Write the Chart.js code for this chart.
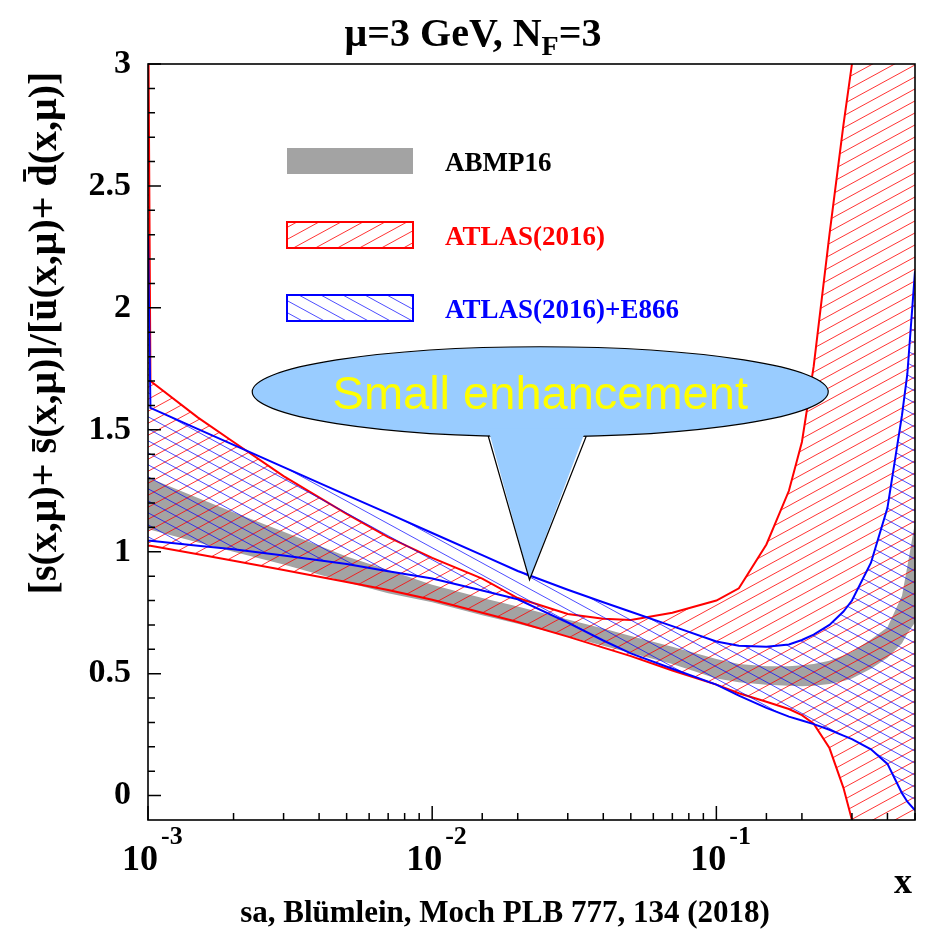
<!DOCTYPE html>
<html>
<head>
<meta charset="utf-8">
<script src="https://cdn.jsdelivr.net/npm/chart.js@4.4.0/dist/chart.umd.min.js"></script>
<style>
html,body{margin:0;padding:0;background:#fff}
#wrap{width:925px;height:931px}
</style>
</head>
<body>
<div id="wrap"><canvas id="c" width="925" height="931"></canvas></div>
<script>
// x grid shared by every band
const xs=[0.001,0.00102,0.0015,0.002,0.003,0.005,0.007,0.01,0.015,0.02,0.03,0.04,0.05,0.07,0.1,0.12,0.15,0.18,0.2,0.22,0.25,0.28,0.3,0.35,0.4,0.45,0.47,0.5];

// ABMP16 band
const abmpUp=[1.30,1.30,1.22,1.162,1.082,0.98,0.925,0.865,0.81,0.775,0.722,0.685,0.655,0.61,0.56,0.54,0.53,0.53,0.535,0.54,0.553,0.575,0.59,0.64,0.69,0.82,0.94,1.12];
const abmpLo=[1.09,1.09,1.038,1.0,0.948,0.875,0.83,0.793,0.74,0.705,0.653,0.615,0.585,0.54,0.48,0.465,0.455,0.45,0.448,0.45,0.458,0.47,0.48,0.52,0.565,0.625,0.665,0.71];

// ATLAS(2016) band
const atlasUp=[3.4,1.70,1.55,1.45,1.31,1.155,1.06,0.975,0.89,0.81,0.745,0.725,0.72,0.75,0.80,0.85,1.03,1.25,1.45,1.76,2.3,2.75,3.0,3.7,4.5,5.3,5.6,6.0];
const atlasLo=[1.025,1.025,0.99,0.963,0.925,0.876,0.843,0.803,0.75,0.712,0.652,0.607,0.572,0.513,0.455,0.42,0.385,0.355,0.33,0.295,0.195,0.032,-0.1,-0.6,-1.2,-1.7,-1.9,-2.2];

// ATLAS(2016)+E866 band
const e866Up=[2.3,1.59,1.503,1.438,1.347,1.232,1.157,1.077,0.986,0.921,0.844,0.793,0.754,0.695,0.632,0.615,0.61,0.62,0.638,0.66,0.70,0.755,0.80,0.955,1.18,1.56,1.73,2.15];
const e866Lo=[1.045,1.045,1.025,1.01,0.985,0.95,0.92,0.89,0.841,0.805,0.709,0.636,0.583,0.52,0.455,0.41,0.36,0.324,0.308,0.293,0.27,0.246,0.232,0.19,0.13,0.01,-0.025,-0.06];

const seriesNames=['ABMP16','ATLAS(2016)','ATLAS(2016)+E866'];
const xDecades=[0.001,0.01,0.1];
const xExponents=['-3','-2','-1'];
const calloutText='Small enhancement';
const calloutCenter={x:0.024,y:1.656};
const calloutTip={x:0.022,y:0.885};

const SERIF="'Liberation Serif','Times New Roman',serif";
const cv=document.getElementById('c');
const ctx0=cv.getContext('2d');

function hatch(color,down){
  const t=document.createElement('canvas');
  t.width=22;t.height=12;
  const g=t.getContext('2d');
  g.strokeStyle=color;g.lineWidth=1;
  g.beginPath();
  for(const k of [-12,0,12]){
    if(down){g.moveTo(-22,-12+k);g.lineTo(44,24+k);}
    else{g.moveTo(-22,24+k);g.lineTo(44,-12+k);}
  }
  g.stroke();
  return ctx0.createPattern(t,'repeat');
}
const redHatch=hatch('rgba(255,0,0,0.8)',false);
const blueHatch=hatch('rgba(0,0,255,0.7)',true);
const grey='#a3a3a3';

const pts=a=>xs.map((x,i)=>({x,y:a[i]}));
const base={pointRadius:0,tension:0,clip:0};

function text(ctx,s,x,y,size,color,align){
  ctx.font='bold '+size+'px '+SERIF;
  ctx.fillStyle=color;ctx.textAlign=align||'left';ctx.textBaseline='alphabetic';
  ctx.fillText(s,x,y);
}

const decor={
  id:'decor',
  afterDatasetsDraw(chart){
    const {ctx,scales:{x,y}}=chart;
    // callout
    const cx=x.getPixelForValue(calloutCenter.x),cy=y.getPixelForValue(calloutCenter.y);
    const tx=x.getPixelForValue(calloutTip.x),ty=y.getPixelForValue(calloutTip.y);
    const rx=288,ry=45,bl=-52,br=46;
    const ey=d=>ry*Math.sqrt(1-(d/rx)*(d/rx));
    ctx.save();
    ctx.fillStyle='#99ccff';ctx.strokeStyle='#000';ctx.lineWidth=1.2;
    ctx.beginPath();ctx.ellipse(cx,cy,rx,ry,0,0,Math.PI*2);ctx.fill();ctx.stroke();
    ctx.beginPath();ctx.moveTo(cx+bl,cy+ry-8);ctx.lineTo(tx,ty);ctx.lineTo(cx+br,cy+ry-8);ctx.closePath();ctx.fill();
    ctx.beginPath();ctx.moveTo(cx+bl,cy+ey(bl));ctx.lineTo(tx,ty);ctx.lineTo(cx+br,cy+ey(br));ctx.stroke();
    ctx.font="47px 'Liberation Sans',Arial,sans-serif";
    ctx.fillStyle='#ffff00';ctx.textAlign='center';ctx.textBaseline='alphabetic';
    ctx.fillText(calloutText,cx,cy+17);
    // legend
    const lx=287,lw=126,lh=26,rows=[148,222,295];
    const fills=[grey,redHatch,blueHatch],cols=['#000','#ff0000','#0000ff'];
    rows.forEach((ry0,i)=>{
      ctx.fillStyle=fills[i];ctx.fillRect(lx,ry0,lw,lh);
      if(i>0){ctx.strokeStyle=cols[i];ctx.lineWidth=2;ctx.strokeRect(lx,ry0,lw,lh);}
      text(ctx,seriesNames[i],445,ry0+23,27,cols[i]);
    });
    ctx.restore();
  },
  afterDraw(chart){
    const {ctx,chartArea:a,scales:{x,y}}=chart;
    ctx.save();
    ctx.strokeStyle='#000';ctx.lineWidth=1.6;
    ctx.strokeRect(a.left,a.top,a.right-a.left,a.bottom-a.top);
    ctx.lineWidth=1.5;ctx.beginPath();
    y.ticks.forEach(t=>{
      const r=Math.round(t.value*10);if(r<0) return;
      const py=y.getPixelForValue(t.value),len=r%5===0?13:7;
      ctx.moveTo(a.left,py);ctx.lineTo(a.left+len,py);
    });
    x.ticks.forEach(t=>{
      const l=Math.log10(t.value),len=Math.abs(l-Math.round(l))<1e-6?14:7;
      const px=x.getPixelForValue(t.value);
      ctx.moveTo(px,a.bottom);ctx.lineTo(px,a.bottom-len);
    });
    ctx.stroke();
    // x tick labels 10^n
    xDecades.forEach((v,i)=>{
      const px=x.getPixelForValue(v);
      text(ctx,'10',px+10,870,36,'#000','right');
      text(ctx,xExponents[i],px+13,844,26,'#000','left');
    });
    text(ctx,'x',903,893,36,'#000','center');
    text(ctx,'sa, Blümlein, Moch PLB 777, 134 (2018)',505,922,31,'#000','center');
    // title with subscript
    ctx.font='bold 40px '+SERIF;
    const p1='\u03bc=3 GeV, N',p3='=3';
    const w1=ctx.measureText(p1).width,w3=ctx.measureText(p3).width;
    ctx.font='bold 28px '+SERIF;
    const w2=ctx.measureText('F').width;
    let sx=473-(w1+w2+w3)/2;
    text(ctx,p1,sx,46,40,'#000');
    text(ctx,'F',sx+w1,55,28,'#000');
    text(ctx,p3,sx+w1+w2,46,40,'#000');
    // y title
    ctx.translate(56,333);ctx.rotate(-Math.PI/2);
    text(ctx,'[s(x,\u03bc)+ s\u0304(x,\u03bc)]/[u\u0304(x,\u03bc)+ d\u0304(x,\u03bc)]',0,0,40,'#000','center');
    ctx.restore();
  }
};

new Chart(cv,{
  type:'line',
  data:{datasets:[
    {...base,label:seriesNames[2],data:pts(e866Up),borderColor:'#0000ff',borderWidth:2,fill:'+1',backgroundColor:blueHatch},
    {...base,label:seriesNames[2]+' low',data:pts(e866Lo),borderColor:'#0000ff',borderWidth:2,fill:false},
    {...base,label:seriesNames[1],data:pts(atlasUp),borderColor:'#ff0000',borderWidth:2,fill:'+1',backgroundColor:redHatch},
    {...base,label:seriesNames[1]+' low',data:pts(atlasLo),borderColor:'#ff0000',borderWidth:2,fill:false},
    {...base,label:seriesNames[0],data:pts(abmpUp),borderColor:'rgba(0,0,0,0)',borderWidth:1,fill:'+1',backgroundColor:grey},
    {...base,label:seriesNames[0]+' low',data:pts(abmpLo),borderColor:'rgba(0,0,0,0)',borderWidth:1,fill:false}
  ]},
  options:{
    responsive:false,animation:false,events:[],
    layout:{padding:{left:0,right:10,top:64,bottom:0}},
    plugins:{legend:{display:false},tooltip:{enabled:false},title:{display:false}},
    scales:{
      x:{type:'logarithmic',min:0.001,max:0.5,
        grid:{display:false,drawTicks:false},border:{display:false},ticks:{display:false},
        afterFit:s=>{s.height=111;}},
      y:{type:'linear',min:-0.1,max:3,
        grid:{display:false,drawTicks:false},border:{display:false},
        ticks:{stepSize:0.1,autoSkip:false,padding:17,color:'#000',
          font:{family:SERIF,size:34,weight:'bold'},
          callback:v=>{const r=Math.round(v*10);return r%5===0?String(r/10):'';}},
        afterFit:s=>{s.width=148;}}
    }
  },
  plugins:[decor]
});
</script>
</body>
</html>
